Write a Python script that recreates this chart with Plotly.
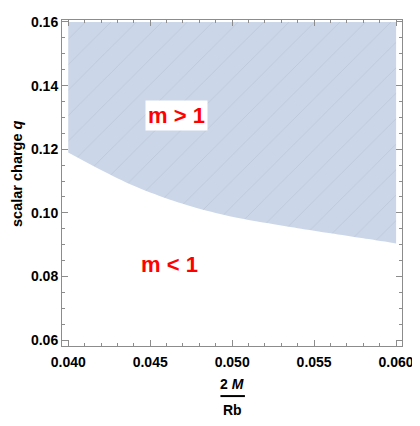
import plotly.graph_objects as go

# boundary of the m > 1 region
x_vals = [0.040, 0.042, 0.044, 0.046, 0.048, 0.050, 0.052, 0.054, 0.056, 0.058, 0.060]
q_vals = [0.1190, 0.1135, 0.1085, 0.1045, 0.1013, 0.0988, 0.0969, 0.0952, 0.0936, 0.0920, 0.0904]
q_top = 0.16

labels = ["m > 1", "m < 1"]
label_x = [0.0466, 0.0462]
label_y = [0.1305, 0.0838]

x_ticks = [0.040, 0.045, 0.050, 0.055, 0.060]
y_ticks = [0.06, 0.08, 0.10, 0.12, 0.14, 0.16]

fill_col = "#cbd6e8"
frame_col = "#8c8c8c"
font_fam = "Liberation Sans, Arial, sans-serif"

fig = go.Figure()
# lower boundary (invisible), then the top edge filled down to it
fig.add_trace(go.Scatter(x=x_vals, y=q_vals, mode="lines",
                         line=dict(width=0, shape="spline", smoothing=0.8),
                         hoverinfo="skip", showlegend=False))
fig.add_trace(go.Scatter(x=x_vals, y=[q_top] * len(x_vals), mode="lines",
                         fill="tonexty", fillcolor=fill_col, line=dict(width=0),
                         fillpattern=dict(shape="/", size=18, solidity=0.05,
                                          fgcolor="rgba(120,135,160,0.35)",
                                          bgcolor=fill_col),
                         hoverinfo="skip", showlegend=False))

for txt, lx, ly, bg in zip(labels, label_x, label_y, ["white", "rgba(0,0,0,0)"]):
    fig.add_annotation(x=lx, y=ly, text="<b>" + txt + "</b>", showarrow=False,
                       xanchor="center", yanchor="middle",
                       font=dict(color="#ff0000", size=22, family=font_fam),
                       bgcolor=bg, borderpad=2)

# axis titles (x title is a fraction 2M / Rb)
title_font = dict(size=14, family=font_fam, color="black")
fig.add_annotation(xref="paper", yref="paper", x=-0.133, y=0.53,
                   xanchor="center", yanchor="middle",
                   text="<b>scalar charge <i>q</i></b>", textangle=-90,
                   showarrow=False, font=dict(size=14.5, family=font_fam, color="black"))
fig.add_annotation(xref="paper", yref="paper", x=0.5, y=-0.1175,
                   xanchor="center", yanchor="middle",
                   text="<b>2 <i>M</i></b>", showarrow=False, font=title_font)
fig.add_annotation(xref="paper", yref="paper", x=0.5, y=-0.1958,
                   xanchor="center", yanchor="middle",
                   text="<b>Rb</b>", showarrow=False, font=title_font)
fig.add_shape(type="line", xref="paper", yref="paper", x0=0.466, x1=0.538,
              y0=-0.1536, y1=-0.1536, line=dict(color="black", width=2))

axis_common = dict(showline=True, linecolor=frame_col, linewidth=1, mirror="allticks",
                   ticks="inside", ticklen=6, tickcolor=frame_col, showgrid=False,
                   zeroline=False, tickfont=dict(size=14, family=font_fam, color="black"))

fig.update_xaxes(range=[0.03962, 0.06036], tickvals=x_ticks,
                 ticktext=["<b>%.3f</b>" % v for v in x_ticks], ticklabelstandoff=3,
                 minor=dict(dtick=0.001, tick0=0.04, ticks="inside", ticklen=3,
                            tickcolor=frame_col, showgrid=False),
                 **axis_common)
fig.update_yaxes(range=[0.05815, 0.16062], tickvals=y_ticks,
                 ticktext=["<b>%.2f</b>" % v for v in y_ticks],
                 minor=dict(dtick=0.005, tick0=0.06, ticks="inside", ticklen=3,
                            tickcolor=frame_col, showgrid=False),
                 **axis_common)

# page body adds an 8px margin all round, so keep the figure inside the window
fig.update_layout(width=412, height=410, plot_bgcolor="white", paper_bgcolor="white",
                  margin=dict(l=54, r=15, t=6, b=72), showlegend=False)

fig.write_html("out.html")
